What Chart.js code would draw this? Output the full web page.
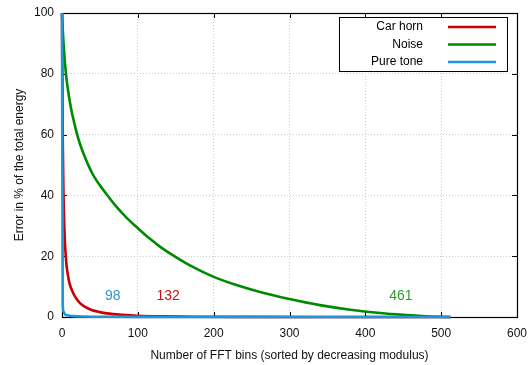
<!DOCTYPE html>
<html>
<head>
<meta charset="utf-8">
<script src="https://cdn.jsdelivr.net/npm/chart.js@4"></script>
<style>
  html, body { margin: 0; padding: 0; background: #fff; }
  #wrap { width: 529px; height: 365px; }
</style>
</head>
<body>
<div id="wrap"><canvas id="errChart"></canvas></div>
<script>
// Error curves (bins kept -> % of total energy lost)
const hornBins  = [0, 1, 2, 3, 4, 5, 6, 8, 10, 13, 17, 24, 30, 39, 50, 59, 80, 100, 132, 180, 250, 350, 512];
const hornError = [100, 58, 40, 30, 24, 20, 17, 13.5, 11, 8.9, 6.8, 4.5, 3.4, 2.3, 1.6, 1.2, 0.7, 0.4, 0.2, 0.08, 0.03, 0.01, 0];

const noiseBins  = [0, 1, 3, 5, 8, 12, 16, 19, 22, 25, 30, 35, 40, 45, 50, 59, 70, 85, 100, 116, 130, 147, 170, 200, 230, 260, 300, 340, 380, 420, 450, 480, 500, 512];
const noiseError = [100, 94.5, 86.5, 80.5, 74.5, 68.5, 64, 61, 58.3, 56, 52.7, 49.8, 47.2, 45.1, 43.3, 40.3, 36.8, 32.7, 29.2, 25.7, 23, 20.2, 16.8, 13.2, 10.5, 8.3, 5.9, 3.9, 2.4, 1.3, 0.7, 0.25, 0.07, 0];

const toneBins  = [0, 1, 2, 4, 8, 15, 30, 60, 98, 200, 512];
const toneError = [100, 4, 1.8, 0.9, 0.5, 0.3, 0.15, 0.07, 0.03, 0.01, 0];

const seriesNames = ['Car horn', 'Noise', 'Pure tone'];
const seriesColors = ['#c80000', '#008a00', '#1e96dc'];

// number of bins needed, written near the bottom of each curve
const markTexts = ['98', '132', '461'];
const markBins = [67, 140, 447];
const markLevel = [6.7, 6.7, 6.7];
const markColors = ['#2a9ad8', '#cc1414', '#2e9a2e'];

const xTicks = [0, 100, 200, 300, 400, 500, 600];
const yTicks = [0, 20, 40, 60, 80, 100];

const FONT = "'Liberation Sans', Arial, sans-serif";

function toPoints(xs, ys) {
  return xs.map((x, i) => ({ x: x, y: ys[i] }));
}

// gnuplot-like frame with inward ticks, bin labels and a boxed legend
const framePlugin = {
  id: 'frame',
  beforeDatasetsDraw(chart) {
    const { ctx, chartArea: a, scales } = chart;
    ctx.save();
    ctx.strokeStyle = '#000';
    ctx.lineWidth = 1;
    ctx.beginPath();
    xTicks.forEach(v => {
      const px = Math.round(scales.x.getPixelForValue(v)) + 0.5;
      ctx.moveTo(px, a.bottom); ctx.lineTo(px, a.bottom - 5);
      ctx.moveTo(px, a.top); ctx.lineTo(px, a.top + 5);
    });
    yTicks.forEach(v => {
      const py = Math.round(scales.y.getPixelForValue(v)) + 0.5;
      ctx.moveTo(a.left, py); ctx.lineTo(a.left + 5, py);
      ctx.moveTo(a.right, py); ctx.lineTo(a.right - 5, py);
    });
    ctx.stroke();
    ctx.lineWidth = 1.2;
    ctx.strokeRect(Math.round(a.left) + 0.5, Math.round(a.top) + 0.5,
      Math.round(a.right - a.left), Math.round(a.bottom - a.top));
    ctx.restore();
  },
  afterDraw(chart) {
    const { ctx, scales } = chart;
    ctx.save();
    ctx.font = '14px ' + FONT;
    ctx.textAlign = 'center';
    ctx.textBaseline = 'middle';
    markTexts.forEach((t, i) => {
      ctx.fillStyle = markColors[i];
      ctx.fillText(t, scales.x.getPixelForValue(markBins[i]), scales.y.getPixelForValue(markLevel[i]));
    });

    // legend box
    ctx.fillStyle = '#fff';
    ctx.fillRect(340, 18, 167, 53);
    ctx.strokeStyle = '#000';
    ctx.lineWidth = 1;
    ctx.strokeRect(339.5, 17.5, 168, 54);
    ctx.font = '12px ' + FONT;
    ctx.textAlign = 'right';
    ctx.fillStyle = '#000';
    const rows = [27, 44.5, 62];
    seriesNames.forEach((name, i) => {
      ctx.fillText(name, 423, rows[i]);
      ctx.strokeStyle = seriesColors[i];
      ctx.lineWidth = 2.5;
      ctx.beginPath();
      ctx.moveTo(448, rows[i]);
      ctx.lineTo(496, rows[i]);
      ctx.stroke();
    });
    ctx.restore();
  }
};

const ctx = document.getElementById('errChart').getContext('2d');

const errChart = new Chart(ctx, {
  type: 'line',
  data: {
    datasets: [
      { label: seriesNames[0], data: toPoints(hornBins, hornError), borderColor: seriesColors[0], order: 3 },
      { label: seriesNames[1], data: toPoints(noiseBins, noiseError), borderColor: seriesColors[1], order: 2 },
      { label: seriesNames[2], data: toPoints(toneBins, toneError), borderColor: seriesColors[2], order: 1 }
    ]
  },
  options: {
    responsive: true,
    maintainAspectRatio: false,
    animation: false,
    layout: { padding: { top: 13, right: 12, left: 0, bottom: 0 } },
    datasets: {
      line: {
        borderWidth: 2.6,
        pointRadius: 0,
        fill: false,
        cubicInterpolationMode: 'monotone',
        clip: false
      }
    },
    scales: {
      x: {
        type: 'linear',
        min: 0,
        max: 600,
        afterFit(scale) {
          scale.height = 48;
          scale.paddingLeft = 0;
          scale.paddingRight = 0;
        },
        afterBuildTicks(scale) { scale.ticks = xTicks.map(v => ({ value: v })); },
        ticks: { color: '#111', font: { family: FONT, size: 12 }, padding: 9, maxRotation: 0 },
        grid: { color: '#cccccc', drawTicks: false },
        border: { display: false, dash: [1, 2] },
        title: {
          display: true,
          text: 'Number of FFT bins (sorted by decreasing modulus)',
          color: '#111',
          font: { family: FONT, size: 12 },
          padding: { top: 0, bottom: 2 }
        }
      },
      y: {
        min: 0,
        max: 100,
        afterFit(scale) {
          scale.width = 62;
          scale.paddingTop = 0;
          scale.paddingBottom = 0;
        },
        afterBuildTicks(scale) { scale.ticks = yTicks.map(v => ({ value: v })); },
        ticks: { color: '#111', font: { family: FONT, size: 12 }, padding: 8 },
        grid: { color: '#cccccc', drawTicks: false },
        border: { display: false, dash: [1, 2] },
        title: {
          display: true,
          text: 'Error in % of the total energy',
          color: '#111',
          font: { family: FONT, size: 12 },
          padding: { top: 12, bottom: 0 }
        }
      }
    },
    plugins: {
      legend: { display: false },
      tooltip: { enabled: false }
    }
  },
  plugins: [framePlugin]
});
</script>
</body>
</html>
